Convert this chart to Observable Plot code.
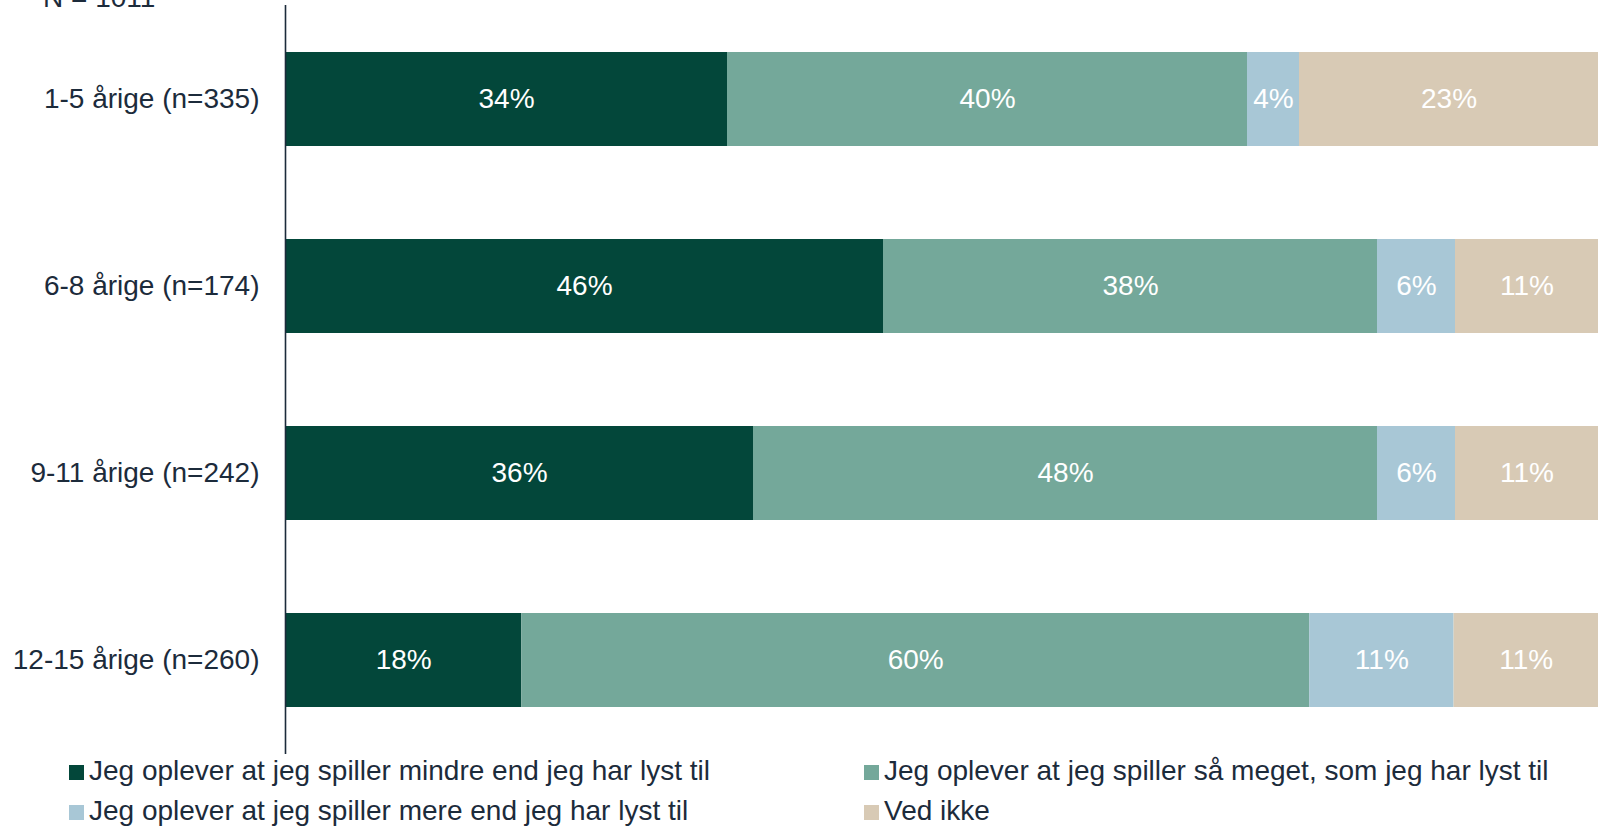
<!DOCTYPE html>
<html>
<head>
<meta charset="utf-8">
<script src="https://cdn.jsdelivr.net/npm/d3@7"></script>
<script src="https://cdn.jsdelivr.net/npm/@observablehq/plot@0.6"></script>
<style>
  html, body { margin: 0; padding: 0; background: #fff; }
  body { width: 1608px; height: 829px; overflow: hidden; position: relative; font-family: "Liberation Sans", Arial, sans-serif; }
  #n { position: absolute; left: 43px; top: -16px; font-size: 28px; color: #1c2b3b; line-height: 1; white-space: nowrap; }
  #chart { position: absolute; left: 0; top: 0; }
  .leg { position: absolute; display: flex; align-items: center; white-space: nowrap; font-size: 28px; color: #1c2b3b; line-height: 1; height: 32px; }
  .sw { width: 15px; height: 15px; margin-right: 5px; flex: none; }
  .lt { position: relative; top: -2px; }
</style>
</head>
<body>
<div id="n">N = 1011</div>
<div id="chart"></div>
<div id="legend"></div>
<script>
const ageGroups = ["1-5 årige (n=335)", "6-8 årige (n=174)", "9-11 årige (n=242)", "12-15 årige (n=260)"];
const seriesNames = [
  "Jeg oplever at jeg spiller mindre end jeg har lyst til",
  "Jeg oplever at jeg spiller så meget, som jeg har lyst til",
  "Jeg oplever at jeg spiller mere end jeg har lyst til",
  "Ved ikke"
];
const seriesColors = ["#03473a", "#74a89a", "#a8c7d6", "#d8cab5"];
const mindre = [34, 46, 36, 18];
const saaMeget = [40, 38, 48, 60];
const mere = [4, 6, 6, 11];
const vedIkke = [23, 11, 11, 11];

const seriesValues = [mindre, saaMeget, mere, vedIkke];
const data = [];
ageGroups.forEach((g, i) => {
  seriesNames.forEach((s, j) => {
    data.push({group: g, series: s, value: seriesValues[j][i]});
  });
});

const stackOpts = {x: "value", y: "group", z: "series", offset: "normalize", order: seriesNames};

const plot = Plot.plot({
  width: 1608,
  height: 755,
  marginLeft: 285,
  marginRight: 10,
  marginTop: 5,
  marginBottom: 1,
  style: {fontFamily: "'Liberation Sans', Arial, sans-serif", fontSize: "28px", color: "#1c2b3b", background: "transparent"},
  x: {axis: null, domain: [0, 1]},
  y: {domain: ageGroups, paddingInner: 0.5, paddingOuter: 0.25, tickSize: 0, tickPadding: 26, label: null},
  color: {domain: seriesNames, range: seriesColors},
  marks: [
    Plot.barX(data, Plot.stackX({...stackOpts, fill: "series"})),
    Plot.text(data, Plot.stackX({...stackOpts, text: d => d.value + "%", fill: "white", fontSize: 28})),
    Plot.ruleX([0], {stroke: "#1c2b3b", strokeWidth: 1.6})
  ]
});
plot.querySelectorAll('[aria-label="y-axis tick label"] text').forEach(t => t.setAttribute("fill", "#1c2b3b"));
document.getElementById("chart").appendChild(plot);

const legendPos = [[69, 772.5], [864, 772.5], [69, 812.5], [864, 812.5]];
const legend = document.getElementById("legend");
seriesNames.forEach((s, i) => {
  const el = document.createElement("div");
  el.className = "leg";
  el.style.left = legendPos[i][0] + "px";
  el.style.top = (legendPos[i][1] - 16) + "px";
  const sw = document.createElement("span");
  sw.className = "sw";
  sw.style.background = seriesColors[i];
  const tx = document.createElement("span");
  tx.className = "lt";
  tx.textContent = s;
  el.appendChild(sw);
  el.appendChild(tx);
  legend.appendChild(el);
});
</script>
</body>
</html>
